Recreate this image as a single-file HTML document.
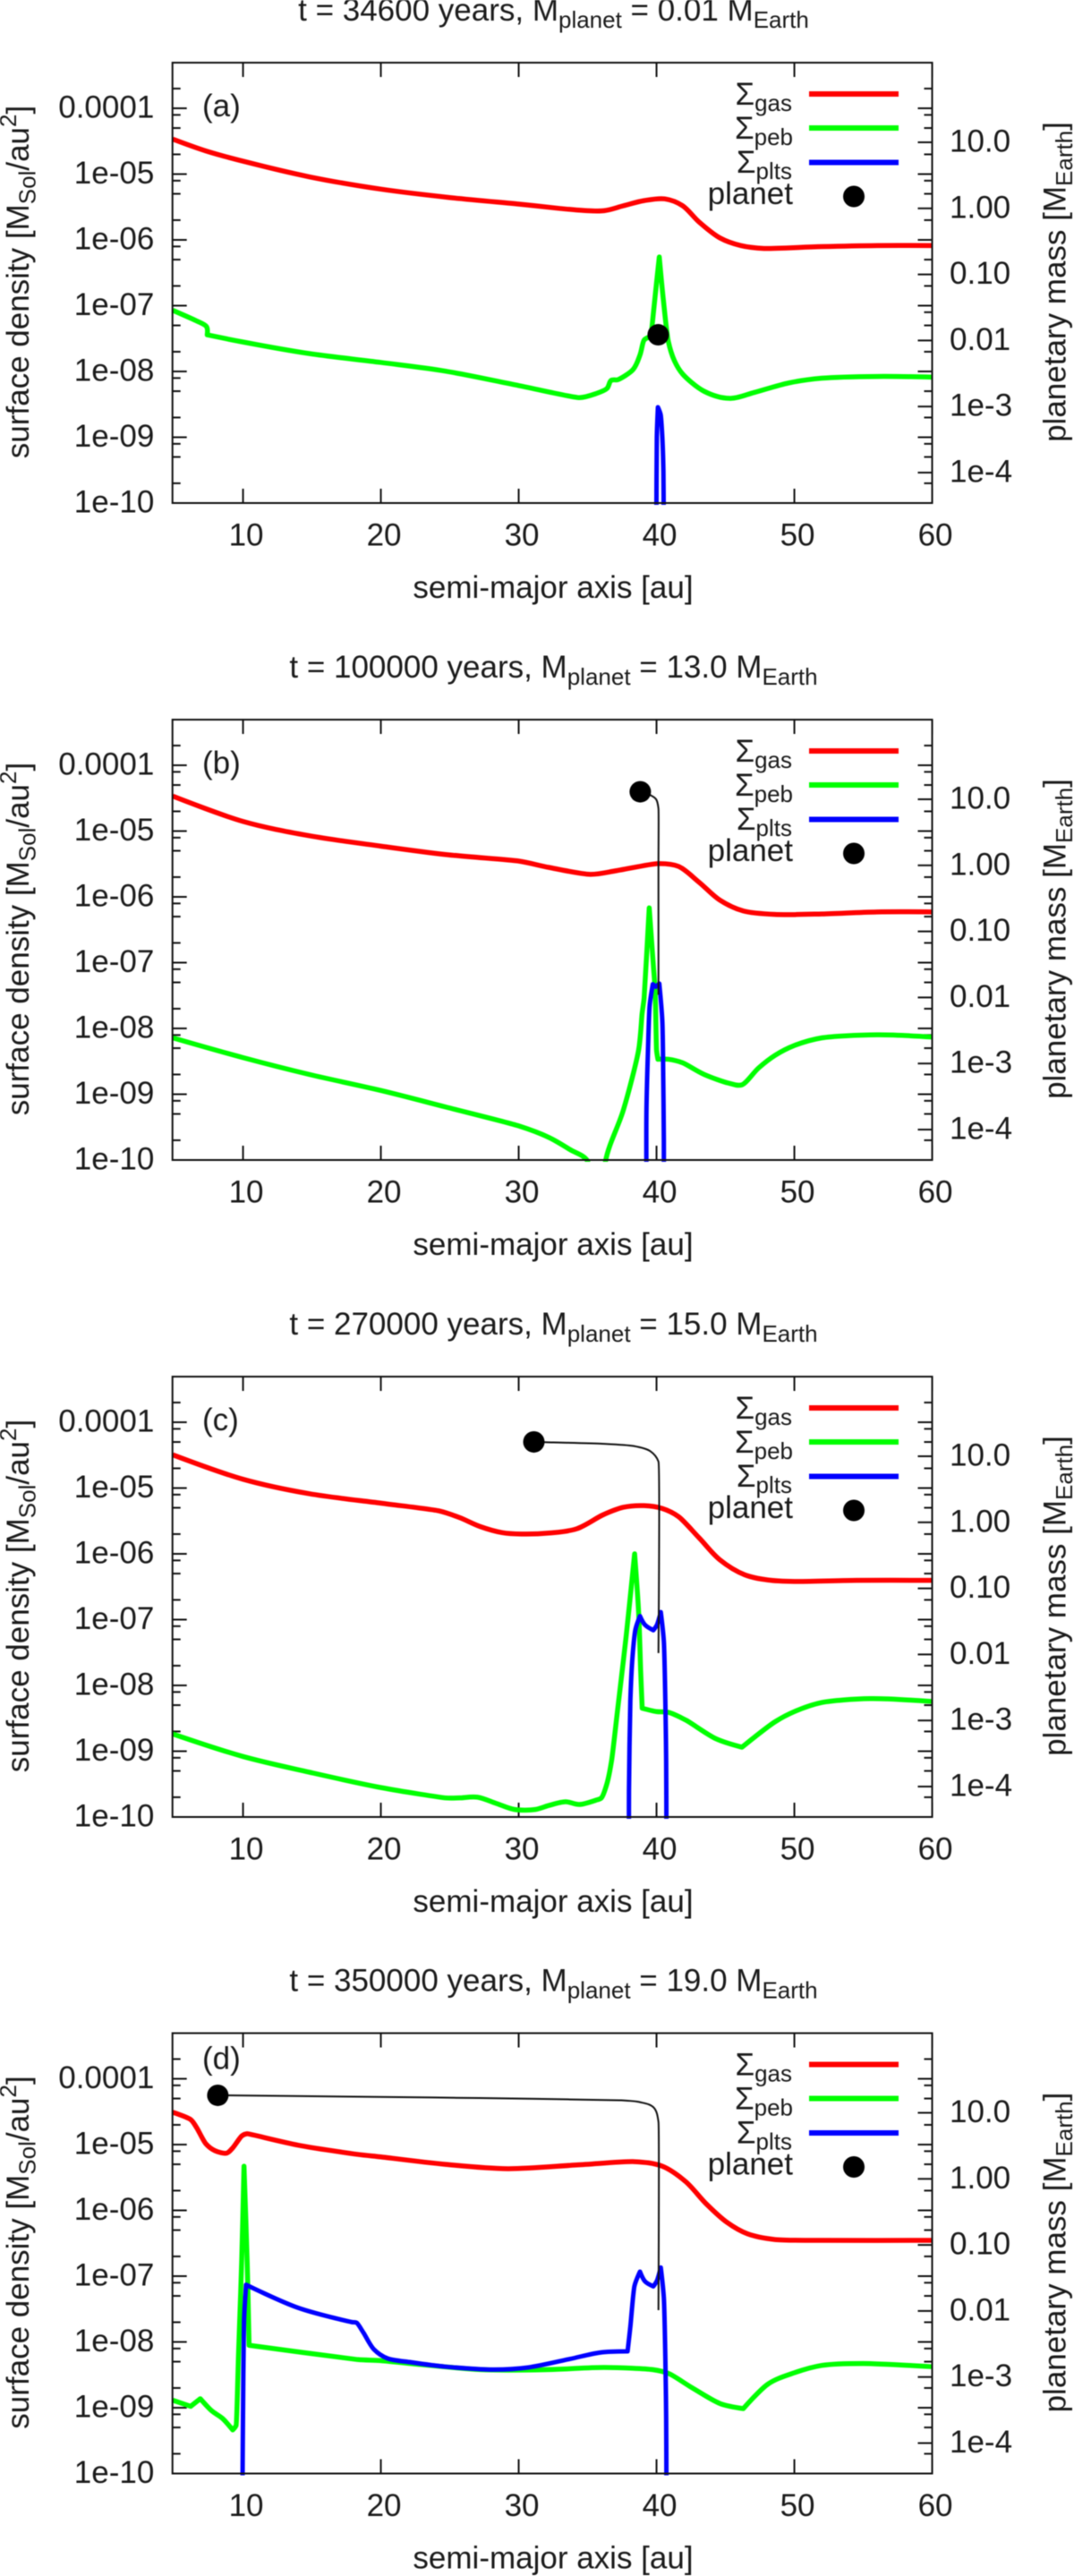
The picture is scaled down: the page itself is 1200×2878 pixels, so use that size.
<!DOCTYPE html>
<html lang="en">
<head>
<meta charset="utf-8">
<title>Surface density panels</title>
<style>
html,body{margin:0;padding:0;background:#fff;}
body{width:1200px;height:2878px;overflow:hidden;}
svg{display:block;filter:blur(0.45px);}
text{font-family:"Liberation Sans",sans-serif;fill:#1a1a1a;font-size:35px;}
.sub{font-size:26px;}
</style>
</head>
<body>
<svg id="figure" xmlns="http://www.w3.org/2000/svg" width="1200" height="2878" viewBox="0 0 1200 2878">
<rect width="1200" height="2878" fill="#fff"/>

<g id="panel-0" transform="translate(0,70)">
  <text x="618.5" y="-47" text-anchor="middle">t = 34600 years, M<tspan class="sub" dy="8">planet</tspan><tspan dy="-8"> = 0.01 M</tspan><tspan class="sub" dy="8">Earth</tspan></text>
  <text x="226" y="60">(a)</text>
  <text x="618" y="598" text-anchor="middle">semi-major axis [au]</text>
  <text transform="translate(32,245) rotate(-90)" text-anchor="middle">surface density [M<tspan class="sub" dy="7.5">Sol</tspan><tspan dy="-7.5">/au</tspan><tspan class="sub" dy="-14">2</tspan><tspan dy="14">]</tspan></text>
  <text transform="translate(1190.7,245) rotate(-90)" text-anchor="middle">planetary mass [M<tspan class="sub" dy="7.5">Earth</tspan><tspan dy="-7.5">]</tspan></text>
  <g>
    <text x="885" y="47" text-anchor="end">Σ<tspan class="sub" dy="7">gas</tspan></text>
    <line x1="904" x2="1004" y1="35" y2="35" stroke="#ff0000" stroke-width="6"/>
    <text x="886" y="85" text-anchor="end">Σ<tspan class="sub" dy="7">peb</tspan></text>
    <line x1="904" x2="1004" y1="73" y2="73" stroke="#00ff00" stroke-width="6"/>
    <text x="885" y="123" text-anchor="end">Σ<tspan class="sub" dy="7">plts</tspan></text>
    <line x1="904" x2="1004" y1="111.5" y2="111.5" stroke="#0000ff" stroke-width="6"/>
    <text x="886" y="158" text-anchor="end">planet</text>
    <circle cx="954" cy="149.5" r="12" fill="#000"/>
  </g>
</g>

<g id="panel-1" transform="translate(0,804)">
  <text x="618.5" y="-47" text-anchor="middle">t = 100000 years, M<tspan class="sub" dy="8">planet</tspan><tspan dy="-8"> = 13.0 M</tspan><tspan class="sub" dy="8">Earth</tspan></text>
  <text x="226" y="60">(b)</text>
  <text x="618" y="598" text-anchor="middle">semi-major axis [au]</text>
  <text transform="translate(32,245) rotate(-90)" text-anchor="middle">surface density [M<tspan class="sub" dy="7.5">Sol</tspan><tspan dy="-7.5">/au</tspan><tspan class="sub" dy="-14">2</tspan><tspan dy="14">]</tspan></text>
  <text transform="translate(1190.7,245) rotate(-90)" text-anchor="middle">planetary mass [M<tspan class="sub" dy="7.5">Earth</tspan><tspan dy="-7.5">]</tspan></text>
  <g>
    <text x="885" y="47" text-anchor="end">Σ<tspan class="sub" dy="7">gas</tspan></text>
    <line x1="904" x2="1004" y1="35" y2="35" stroke="#ff0000" stroke-width="6"/>
    <text x="886" y="85" text-anchor="end">Σ<tspan class="sub" dy="7">peb</tspan></text>
    <line x1="904" x2="1004" y1="73" y2="73" stroke="#00ff00" stroke-width="6"/>
    <text x="885" y="123" text-anchor="end">Σ<tspan class="sub" dy="7">plts</tspan></text>
    <line x1="904" x2="1004" y1="111.5" y2="111.5" stroke="#0000ff" stroke-width="6"/>
    <text x="886" y="158" text-anchor="end">planet</text>
    <circle cx="954" cy="149.5" r="12" fill="#000"/>
  </g>
</g>

<g id="panel-2" transform="translate(0,1538)">
  <text x="618.5" y="-47" text-anchor="middle">t = 270000 years, M<tspan class="sub" dy="8">planet</tspan><tspan dy="-8"> = 15.0 M</tspan><tspan class="sub" dy="8">Earth</tspan></text>
  <text x="226" y="60">(c)</text>
  <text x="618" y="598" text-anchor="middle">semi-major axis [au]</text>
  <text transform="translate(32,245) rotate(-90)" text-anchor="middle">surface density [M<tspan class="sub" dy="7.5">Sol</tspan><tspan dy="-7.5">/au</tspan><tspan class="sub" dy="-14">2</tspan><tspan dy="14">]</tspan></text>
  <text transform="translate(1190.7,245) rotate(-90)" text-anchor="middle">planetary mass [M<tspan class="sub" dy="7.5">Earth</tspan><tspan dy="-7.5">]</tspan></text>
  <g>
    <text x="885" y="47" text-anchor="end">Σ<tspan class="sub" dy="7">gas</tspan></text>
    <line x1="904" x2="1004" y1="35" y2="35" stroke="#ff0000" stroke-width="6"/>
    <text x="886" y="85" text-anchor="end">Σ<tspan class="sub" dy="7">peb</tspan></text>
    <line x1="904" x2="1004" y1="73" y2="73" stroke="#00ff00" stroke-width="6"/>
    <text x="885" y="123" text-anchor="end">Σ<tspan class="sub" dy="7">plts</tspan></text>
    <line x1="904" x2="1004" y1="111.5" y2="111.5" stroke="#0000ff" stroke-width="6"/>
    <text x="886" y="158" text-anchor="end">planet</text>
    <circle cx="954" cy="149.5" r="12" fill="#000"/>
  </g>
</g>

<g id="panel-3" transform="translate(0,2271.5)">
  <text x="618.5" y="-47" text-anchor="middle">t = 350000 years, M<tspan class="sub" dy="8">planet</tspan><tspan dy="-8"> = 19.0 M</tspan><tspan class="sub" dy="8">Earth</tspan></text>
  <text x="226" y="40">(d)</text>
  <text x="618" y="598" text-anchor="middle">semi-major axis [au]</text>
  <text transform="translate(32,245) rotate(-90)" text-anchor="middle">surface density [M<tspan class="sub" dy="7.5">Sol</tspan><tspan dy="-7.5">/au</tspan><tspan class="sub" dy="-14">2</tspan><tspan dy="14">]</tspan></text>
  <text transform="translate(1190.7,245) rotate(-90)" text-anchor="middle">planetary mass [M<tspan class="sub" dy="7.5">Earth</tspan><tspan dy="-7.5">]</tspan></text>
  <g>
    <text x="885" y="47" text-anchor="end">Σ<tspan class="sub" dy="7">gas</tspan></text>
    <line x1="904" x2="1004" y1="35" y2="35" stroke="#ff0000" stroke-width="6"/>
    <text x="886" y="85" text-anchor="end">Σ<tspan class="sub" dy="7">peb</tspan></text>
    <line x1="904" x2="1004" y1="73" y2="73" stroke="#00ff00" stroke-width="6"/>
    <text x="885" y="123" text-anchor="end">Σ<tspan class="sub" dy="7">plts</tspan></text>
    <line x1="904" x2="1004" y1="111.5" y2="111.5" stroke="#0000ff" stroke-width="6"/>
    <text x="886" y="158" text-anchor="end">planet</text>
    <circle cx="954" cy="149.5" r="12" fill="#000"/>
  </g>
</g>
</svg>

<script>
/* ---------- axis tick values and labels ---------- */
const xTicks = [10,20,30,40,50,60];
const xTickLabels = ["10","20","30","40","50","60"];
const yTicks = [1e-10,1e-9,1e-8,1e-7,1e-6,1e-5,1e-4];
const yTickLabels = ["1e-10","1e-09","1e-08","1e-07","1e-06","1e-05","0.0001"];
const yMinorDecadeOffsets = [-0.1,-0.3,-0.7];
const y2Ticks = [10,1,0.1,0.01,0.001,0.0001];
const y2TickLabels = ["10.0","1.00","0.10","0.01","1e-3","1e-4"];

/* ---------- panel (a) t = 34600 yr ---------- */
const gasAx = [4.9,7.3,10,14.8,20,25,30,33,34.7,36.2,37.6,39.1,40.6,41.9,43.1,44.6,46.1,47.8,52,56,60];
const gasAy = [3.4e-5,2.25e-5,1.57e-5,9.1e-6,5.9e-6,4.4e-6,3.5e-6,3e-6,2.8e-6,2.78e-6,3.3e-6,3.95e-6,4.2e-6,3.3e-6,1.86e-6,1.07e-6,8.2e-7,7.4e-7,7.9e-7,8.2e-7,8.2e-7];
const pebAx = [4.9,6.6,7.35,7.4,10,14.8,20,24.7,30,34.4,35.6,36.4,36.7,37.2,38.3,38.8,39.1,39.6,39.9,40.2,40.5,40.85,41.3,41.9,43.45,45.3,47.1,49.6,52,56,60];
const pebAy = [8.5e-8,5.9e-8,4.8e-8,3.6e-8,2.8e-8,1.87e-8,1.37e-8,1.01e-8,6.1e-9,4e-9,4.6e-9,5.5e-9,7.3e-9,7.5e-9,1.07e-8,1.78e-8,3e-8,3.4e-8,1.4e-7,5.5e-7,1.2e-7,2.9e-8,1.45e-8,9.1e-9,5e-9,3.9e-9,4.8e-9,6.7e-9,7.9e-9,8.4e-9,8.2e-9];
const pltAx = [39.99,40.02,40.1,40.3,40.42,40.5,40.52];
const pltAy = [5e-11,1e-9,2.86e-9,2.2e-9,1e-9,3e-10,5e-11];
const trackAx = [40.12];
const trackAm = [0.0122];

/* ---------- panel (b) t = 100000 yr ---------- */
const gasBx = [4.9,10,14.8,20,24.7,30,32.2,35.2,37.1,40.1,41.6,43.1,44.6,46.3,48.6,52,56,60];
const gasBy = [3.4e-5,1.4e-5,8.5e-6,5.9e-6,4.4e-6,3.5e-6,2.8e-6,2.2e-6,2.5e-6,3.2e-6,2.9e-6,1.66e-6,8.9e-7,6.1e-7,5.4e-7,5.5e-7,5.9e-7,5.9e-7];
const pebBx = [4.9,10,14.8,20,24.7,30,32.2,33.7,35,35.4,35.9,36.3,37.6,38.7,38.95,39.1,39.47,39.77,39.9,40,40.1,40.86,41.9,43.45,45.2,46.2,47.4,48.6,50,52,56,60];
const pebBy = [7.2e-9,3.6e-9,2e-9,1.14e-9,6.4e-10,3.3e-10,2.2e-10,1.45e-10,9.6e-11,1e-12,1e-12,9.6e-11,5.8e-10,4.7e-9,1.66e-8,2.9e-8,6.8e-7,9.1e-8,3.7e-8,4.7e-9,3.4e-9,3.4e-9,3e-9,2e-9,1.48e-9,1.39e-9,2.5e-9,3.9e-9,5.5e-9,7.2e-9,8e-9,7.4e-9];
const pltBx = [39.27,39.27,39.38,39.5,39.73,39.95,40.2,40.42,40.49,40.53,40.53];
const pltBy = [5e-11,5.8e-10,4.7e-9,2.2e-8,4.7e-8,4.3e-8,4.8e-8,1.3e-8,1.6e-9,2e-10,5e-11];
const trackBx = [40.14,40.14,40.14,39.97,39.47,38.82];
const trackBm = [0.011,1,7.2,10,11.8,13];

/* ---------- panel (c) t = 270000 yr ---------- */
const gasCx = [4.9,10,14.8,20,24.2,25.7,27.2,28.8,30.2,32.2,34.2,36.1,37.6,39.1,40.4,41.6,43.1,44.6,46.4,48.1,50,54.5,60];
const gasCy = [3.2e-5,1.36e-5,8.2e-6,5.9e-6,4.5e-6,3.56e-6,2.6e-6,2.1e-6,2e-6,2.07e-6,2.4e-6,3.9e-6,5.1e-6,5.4e-6,4.9e-6,3.67e-6,1.74e-6,8.1e-7,4.8e-7,4e-7,3.8e-7,3.95e-7,3.95e-7];
const pebCx = [4.9,10,14.8,20,24.7,25.7,27,28.4,29.7,31.2,32.2,33.4,34.4,35.6,36,36.4,36.74,37.2,37.8,38.41,38.7,38.85,38.96,40,40.86,42.15,44.3,46.2,47.1,48.6,50,52,55.5,60];
const pebCy = [1.83e-9,8.3e-10,4.8e-10,2.8e-10,1.95e-10,1.95e-10,2e-10,1.6e-10,1.3e-10,1.3e-10,1.5e-10,1.7e-10,1.55e-10,1.8e-10,1.95e-10,3.2e-10,7.2e-10,4.7e-9,5.7e-8,1e-6,1.3e-7,1.64e-8,4.5e-9,4e-9,3.9e-9,2.95e-9,1.55e-9,1.15e-9,1.63e-9,2.8e-9,4e-9,5.5e-9,6.3e-9,5.7e-9];
const pltCx = [38,38,38.1,38.26,38.47,38.8,39.17,39.77,40.03,40.31,40.53,40.64,40.7,40.72];
const pltCy = [5e-11,2.5e-10,5.8e-9,2.75e-8,7.1e-8,1.13e-7,8.3e-8,6.9e-8,8.3e-8,1.3e-7,4.7e-8,5.8e-9,7.1e-10,5e-11];
const trackCx = [40.14,40.14,39.56,38.33,36.07,32.1,31.1];
const trackCm = [0.0105,8.3,11.9,14.3,15.5,16.3,16.5];

/* ---------- panel (d) t = 350000 yr ---------- */
const gasDx = [4.9,6.2,6.64,7.3,7.95,8.8,9.25,9.9,10.3,14,18.3,20,24.7,29.2,34.2,38.4,40.4,42.1,43.6,45.1,46.6,48.6,52,60];
const gasDy = [3.1e-5,2.4e-5,1.8e-5,1.03e-5,8.1e-6,7.4e-6,8.9e-6,1.35e-5,1.46e-5,9.8e-6,7.1e-6,6.5e-6,5e-6,4.3e-6,4.9e-6,5.5e-6,4.7e-6,2.75e-6,1.26e-6,6.6e-7,4.4e-7,3.6e-7,3.5e-7,3.5e-7];
const pebDx = [4.9,6.2,6.9,7.72,8.5,9.25,9.5,9.68,9.9,10.07,10.3,10.44,18.3,20,27.2,32.2,36.2,39.7,40.9,42.6,44.6,46.3,48.1,50,52,55,60];
const pebDy = [1.3e-9,1.05e-9,1.37e-9,9e-10,6.9e-10,4.6e-10,5.4e-10,7.2e-9,1.66e-7,4.7e-6,1.66e-7,8.9e-9,5.4e-9,5.2e-9,3.8e-9,3.8e-9,4.1e-9,3.8e-9,3.3e-9,2e-9,1.16e-9,9.7e-10,2.3e-9,3.4e-9,4.4e-9,4.7e-9,4.2e-9];
const pltDx = [9.96,10,10.07,10.22,14,17.9,18.25,18.75,19.5,20.5,22.2,24.7,28.2,30.7,33.7,35.9,37.9,38.1,38.4,38.8,39.17,39.77,40.03,40.31,40.53,40.64,40.7,40.72];
const pltDy = [5e-11,9e-10,2.1e-8,7.4e-8,3.3e-8,2e-8,1.95e-8,1.37e-8,7.7e-9,5.6e-9,4.9e-9,4.2e-9,3.8e-9,4.1e-9,5.5e-9,6.9e-9,7.2e-9,1.7e-8,7.1e-8,1.17e-7,8.3e-8,7e-8,8.5e-8,1.35e-7,4.7e-8,5.8e-9,7.1e-10,5e-11];
const trackDx = [40.14,40.14,39.8,38.8,37.3,27.15,17.2,8.17];
const trackDm = [0.0103,7.3,12,14.5,15.5,16.7,17.6,18.4];

const panelSeries = [
  {gasX:gasAx,gasY:gasAy,pebX:pebAx,pebY:pebAy,pltX:pltAx,pltY:pltAy,trackX:trackAx,trackM:trackAm},
  {gasX:gasBx,gasY:gasBy,pebX:pebBx,pebY:pebBy,pltX:pltBx,pltY:pltBy,trackX:trackBx,trackM:trackBm},
  {gasX:gasCx,gasY:gasCy,pebX:pebCx,pebY:pebCy,pltX:pltCx,pltY:pltCy,trackX:trackCx,trackM:trackCm},
  {gasX:gasDx,gasY:gasDy,pebX:pebDx,pebY:pebDy,pltX:pltDx,pltY:pltDy,trackX:trackDx,trackM:trackDm}
];

/* ---------- axis functions (panel-local pixels) ---------- */
const SVGNS = "http://www.w3.org/2000/svg";
const frameLeft = 192.7, frameRight = 1041.5, frameHeight = 492;
const auMin = 4.88, pixelsPerAu = 15.4;
const decadePx = 73.5, decadePx2 = 73.8, y2TenOffset = 89;
function xAxis(au){ return frameLeft + (au-auMin)*pixelsPerAu; }
function yAxis(sigma){ return frameHeight - (Math.log10(sigma)+10)*decadePx; }
function y2Axis(mass){ return y2TenOffset - (Math.log10(mass)-1)*decadePx2; }

function addEl(parent, tag, attrs, text){
  const el = document.createElementNS(SVGNS, tag);
  for (const k in attrs) el.setAttribute(k, attrs[k]);
  if (text !== undefined) el.textContent = text;
  parent.appendChild(el);
  return el;
}
function pointsOf(xs, ys, yFn){
  return xs.map((v,i)=>[xAxis(v), yFn(ys[i])]);
}
/* Smooth through the read points, but keep sharp vertices (spikes, steps) as corners. */
function smoothPath(pts){
  const n = pts.length;
  const unit = (a,b)=>{
    const dx=b[0]-a[0], dy=b[1]-a[1], l=Math.hypot(dx,dy)||1;
    return [dx/l,dy/l,Math.hypot(dx,dy)];
  };
  const tangents = pts.map((p,i)=>{
    if (i===0 || i===n-1) return null;
    const u=unit(pts[i-1],p), v=unit(p,pts[i+1]);
    if (u[0]*v[0]+u[1]*v[1] < 0.55) return null;
    const tx=u[0]+v[0], ty=u[1]+v[1], l=Math.hypot(tx,ty)||1;
    return {x:tx/l, y:ty/l, h:Math.min(u[2],v[2])/3};
  });
  let d = "M"+pts[0][0].toFixed(2)+" "+pts[0][1].toFixed(2);
  for (let i=0;i<n-1;i++){
    const a=pts[i], b=pts[i+1], ta=tangents[i], tb=tangents[i+1];
    const c1 = ta ? [a[0]+ta.x*ta.h, a[1]+ta.y*ta.h] : a;
    const c2 = tb ? [b[0]-tb.x*tb.h, b[1]-tb.y*tb.h] : b;
    d+=" C"+c1[0].toFixed(2)+" "+c1[1].toFixed(2)+" "+c2[0].toFixed(2)+" "+c2[1].toFixed(2)+" "+b[0].toFixed(2)+" "+b[1].toFixed(2);
  }
  return d;
}

function drawPanel(series, idx){
  const panel = document.getElementById("panel-"+idx);
  const shortLen = 9, longLen = 16;

  /* clip region */
  const clip = addEl(panel,"clipPath",{id:"plot-clip-"+idx});
  addEl(clip,"rect",{x:frameLeft-3,y:-1,width:frameRight-frameLeft+6,height:frameHeight+3});

  /* x ticks */
  xTicks.forEach((v,i)=>{
    const x = xAxis(v);
    const bottomTick = addEl(panel,"line",{x1:x,x2:x,y1:frameHeight,y2:frameHeight-longLen,stroke:"#111","stroke-width":2});
    
    
    const topTick = addEl(panel,"line",{x1:x,x2:x,y1:0,y2:longLen,stroke:"#111","stroke-width":2});
    
    
    const label = addEl(panel,"text",{x:x+3.5,y:frameHeight+47.5,"text-anchor":"middle"},xTickLabels[i]);
    
    
  });

  /* y major ticks (left, mirrored right) */
  yTicks.forEach((v,i)=>{
    const y = yAxis(v);
    const leftTick = addEl(panel,"line",{x1:frameLeft,x2:frameLeft+longLen,y1:y,y2:y,stroke:"#111","stroke-width":2});
    
    
    const rightTick = addEl(panel,"line",{x1:frameRight,x2:frameRight-longLen,y1:y,y2:y,stroke:"#111","stroke-width":2});
    
    
    const label = addEl(panel,"text",{x:172.3,y:y+10.5,"text-anchor":"end"},yTickLabels[i]);
    
    
  });

  /* y minor ticks */
  for (let k=-9;k<=-3;k++){
    yMinorDecadeOffsets.forEach(off=>{
      const y = yAxis(Math.pow(10,k+off));
      if (y<1 || y>frameHeight-1) return;
      const leftMinor = addEl(panel,"line",{x1:frameLeft,x2:frameLeft+shortLen,y1:y,y2:y,stroke:"#111","stroke-width":2});
      
      
      const rightMinor = addEl(panel,"line",{x1:frameRight,x2:frameRight-shortLen,y1:y,y2:y,stroke:"#111","stroke-width":2});
      
      
    });
  }

  /* y2 ticks */
  y2Ticks.forEach((v,i)=>{
    const y = y2Axis(v);
    const tick = addEl(panel,"line",{x1:frameRight,x2:frameRight-longLen,y1:y,y2:y,stroke:"#111","stroke-width":2});
    
    
    const label = addEl(panel,"text",{x:1061,y:y+10.5},y2TickLabels[i]);
    
    
  });

  /* series */
  const plot = addEl(panel,"g",{"clip-path":"url(#plot-clip-"+idx+")",fill:"none","stroke-linejoin":"round","stroke-linecap":"butt"});
  
  

  const gasCurve = addEl(plot,"path",{d:smoothPath(pointsOf(series.gasX,series.gasY,yAxis)),stroke:"#ff0000","stroke-width":5.5});
  
  

  const pebCurve = addEl(plot,"path",{d:smoothPath(pointsOf(series.pebX,series.pebY,yAxis)),stroke:"#00ff00","stroke-width":5.5});
  
  

  const pltCurve = addEl(plot,"path",{d:smoothPath(pointsOf(series.pltX,series.pltY,yAxis)),stroke:"#0000ff","stroke-width":5});
  
  

  if (series.trackX.length > 1){
    const trackLine = addEl(plot,"path",{d:smoothPath(pointsOf(series.trackX,series.trackM,y2Axis)),stroke:"#111","stroke-width":2});
    
    
  }

  const last = series.trackX.length-1;
  const dot = addEl(panel,"circle",{cx:xAxis(series.trackX[last]),cy:y2Axis(series.trackM[last]),r:12,fill:"#000"});
  
  

  /* frame */
  const frame = addEl(panel,"rect",{x:frameLeft,y:0,width:frameRight-frameLeft,height:frameHeight,fill:"none",stroke:"#111","stroke-width":2});
  
  
}

panelSeries.forEach(drawPanel);
</script>
</body>
</html>
